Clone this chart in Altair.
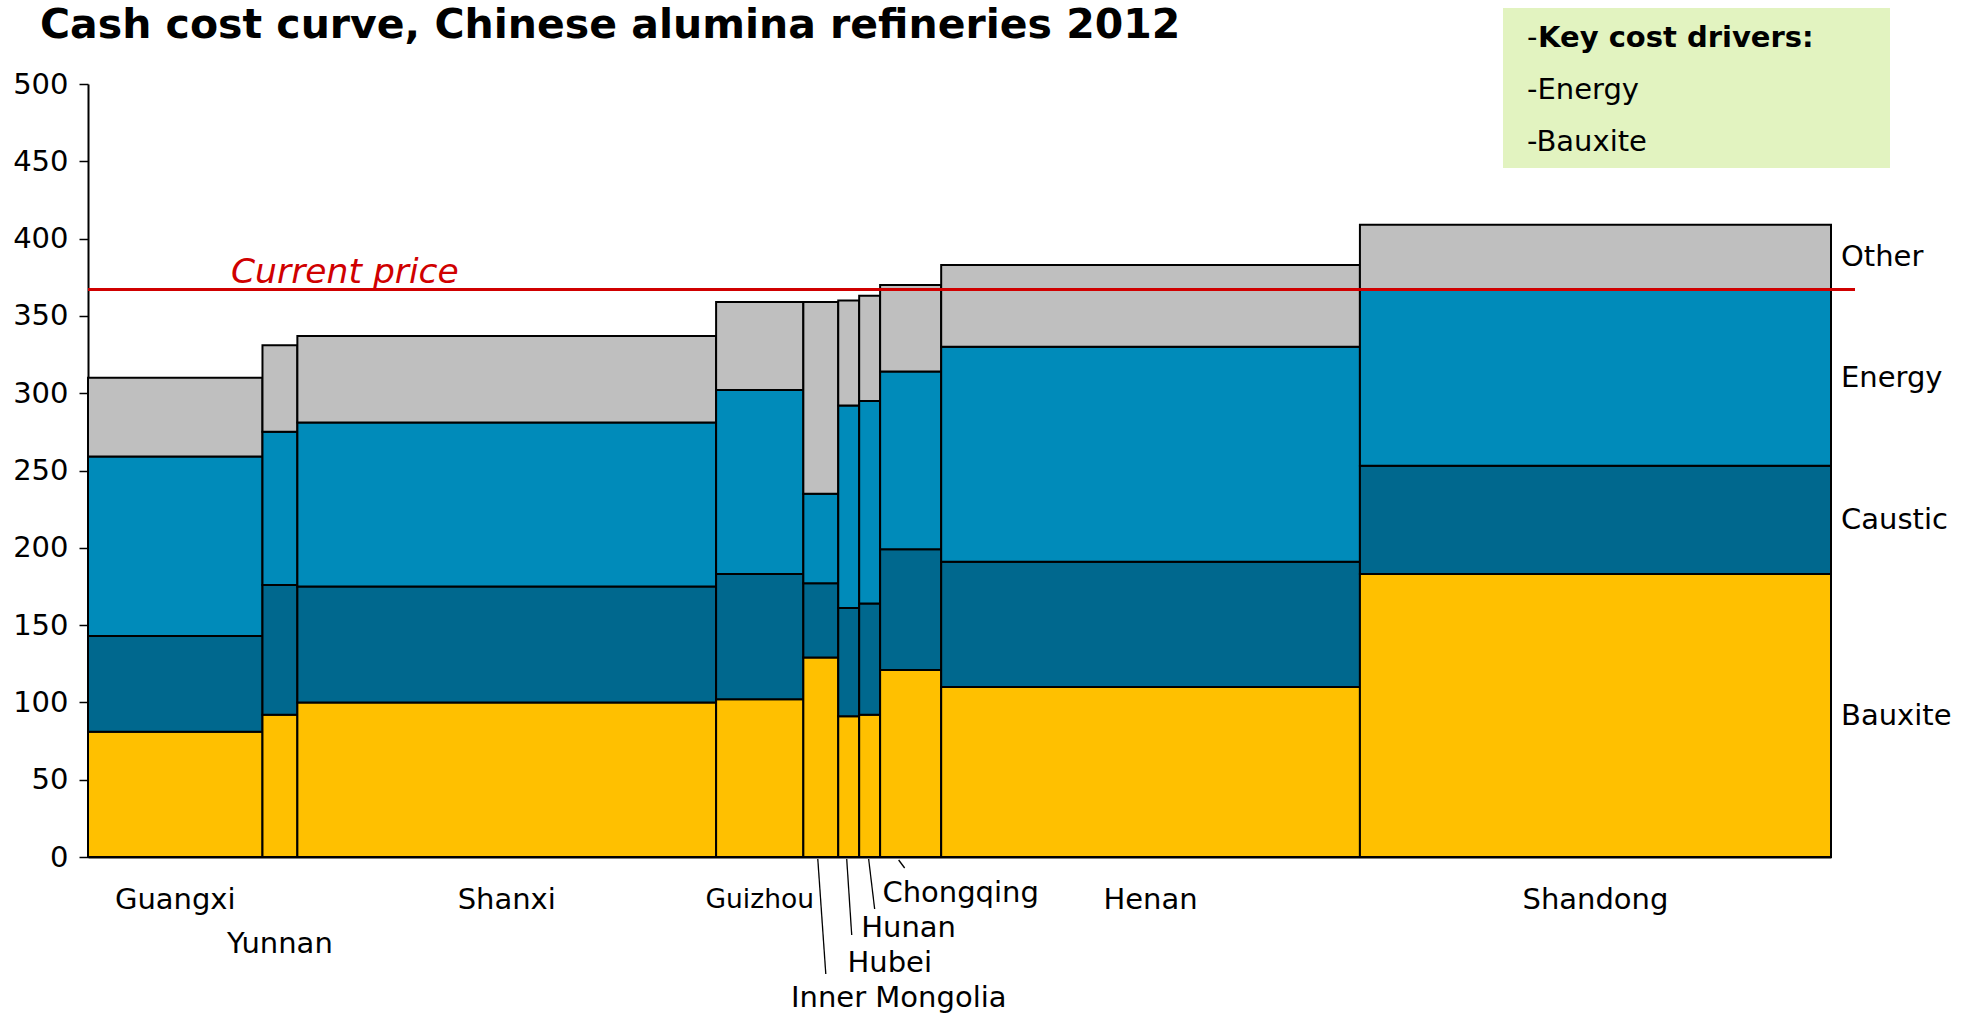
import altair as alt
import pandas as pd

# ---------------- data ----------------
regions = ["Guangxi", "Yunnan", "Shanxi", "Guizhou", "Inner Mongolia",
           "Hubei", "Hunan", "Chongqing", "Henan", "Shandong"]
capacity = [5.0, 1.0, 12.0, 2.5, 1.0, 0.6, 0.6, 1.75, 12.0, 13.5]   # bar widths
bauxite = [81, 92, 100, 102, 129, 91, 92, 121, 110, 183]
caustic = [62, 84, 75, 81, 48, 70, 72, 78, 81, 70]
energy = [116, 99, 106, 119, 58, 131, 131, 115, 139, 114]
other = [51, 56, 56, 57, 124, 68, 68, 56, 53, 42]
components = ["Bauxite", "Caustic", "Energy", "Other"]
current_price = [367]
price_label = ["Current price"]
y_ticks = [0, 50, 100, 150, 200, 250, 300, 350, 400, 450, 500]
key_title = "Key cost drivers:"
key_items = ["Energy", "Bauxite"]
title_text = "Cash cost curve, Chinese alumina refineries 2012"

# ---------------- styles / layout ----------------
colors = ["#FFC000", "#00688E", "#008BBA", "#BFBFBF"]
RED = "#D00000"
FONT = "DejaVu Sans"
FS = 29
W, H = 1743, 773
total = sum(capacity)
px_x = W / total
px_y = H / 500.0

# label layout: (dx px from bar centre, y px from plot top, font size)
label_layout = {
    "Guangxi": (0, 816, FS), "Yunnan": (0, 860, FS), "Shanxi": (0, 816, FS),
    "Guizhou": (0, 816, 26.5), "Inner Mongolia": (78, 914, FS), "Hubei": (41, 879, FS),
    "Hunan": (39, 844, FS), "Chongqing": (50, 809, FS), "Henan": (0, 816, FS),
    "Shandong": (0, 816, FS),
}
# leader lines: (dx top, dx bottom, y top, y bottom) in px
leader_layout = {
    "Inner Mongolia": (-3, 5, 775, 890), "Hubei": (-2, 3, 775, 851),
    "Hunan": (-1, 5, 775, 825), "Chongqing": (-12, -6, 776, 784),
}

rows = []
starts = {}
start = 0.0
for i, r in enumerate(regions):
    end = start + capacity[i]
    starts[r] = (start, end)
    base = 0
    for comp, vals in zip(components, [bauxite, caustic, energy, other]):
        v = vals[i]
        rows.append(dict(region=r, component=comp, cost=v, x0=start, x1=end,
                         y0=base, y1=base + v))
        base += v
    start = end
df = pd.DataFrame(rows)

def py_to_data(py):
    return (H - py) / px_y

lab_rows = []
for r in regions:
    s, e = starts[r]
    dx, py, fs = label_layout[r]
    lab_rows.append(dict(region=r, x=(s + e) / 2 + dx / px_x, y=py_to_data(py), fs=fs))
lab_df = pd.DataFrame(lab_rows)

lead_rows = []
for r, (dxt, dxb, yt, yb) in leader_layout.items():
    s, e = starts[r]
    m = (s + e) / 2
    lead_rows.append(dict(region=r, xa=m + dxt / px_x, xb=m + dxb / px_x,
                          ya=py_to_data(yt), yb=py_to_data(yb)))
lead_df = pd.DataFrame(lead_rows)

last = df[df.region == regions[-1]].copy()
last["ym"] = (last.y0 + last.y1) / 2
last["xr"] = total + 10 / px_x

price_df = pd.DataFrame({"price": current_price, "label": price_label,
                         "xs": [0.0], "xe": [total + 24 / px_x]})

x_scale = alt.Scale(domain=[0, total], nice=False, zero=False)
y_scale = alt.Scale(domain=[0, 500], nice=False)

bars = alt.Chart(df).mark_rect(stroke="black", strokeWidth=2).encode(
    x=alt.X("x0:Q", scale=x_scale,
            axis=alt.Axis(title=None, labels=False, ticks=False, grid=False,
                          domainColor="black", domainWidth=2)),
    x2="x1:Q",
    y=alt.Y("y0:Q", scale=y_scale,
            axis=alt.Axis(title=None, values=y_ticks, grid=False, domainColor="black",
                          domainWidth=2, tickColor="black", tickWidth=1.5, tickSize=9,
                          labelFontSize=FS, labelFont=FONT, labelColor="black",
                          labelPadding=11)),
    y2="y1:Q",
    color=alt.Color("component:N", scale=alt.Scale(domain=components, range=colors),
                    legend=None),
    tooltip=["region", "component", "cost"],
)

price_rule = alt.Chart(price_df).mark_rule(color=RED, strokeWidth=3).encode(
    x="xs:Q", x2="xe:Q", y="price:Q")

price_text = alt.Chart(price_df).mark_text(
    align="left", baseline="alphabetic", dy=-7, fontStyle="italic",
    fontSize=34.5, font=FONT, color=RED).encode(
    x=alt.value(143), y="price:Q", text="label:N")

cat_labels = alt.Chart(lab_df).mark_text(
    align="center", baseline="middle", font=FONT, color="black").encode(
    x="x:Q", y="y:Q", text="region:N", size=alt.Size("fs:Q", scale=None))

leaders = alt.Chart(lead_df).mark_rule(color="black", strokeWidth=1.3).encode(
    x="xa:Q", x2="xb:Q", y="ya:Q", y2="yb:Q")

right_labels = alt.Chart(last).mark_text(
    align="left", baseline="middle", fontSize=FS, font=FONT, color="black").encode(
    x="xr:Q", y="ym:Q", text="component:N")

one = pd.DataFrame({"k": [0]})
box = alt.Chart(one).mark_rect(fill="#E2F3C0").encode(
    x=alt.value(1415), x2=alt.value(1802), y=alt.value(-76), y2=alt.value(84))

key_df = pd.DataFrame({"t": ["-", "-" + key_items[0], "-" + key_items[1]],
                       "py": [-46, 6, 58]})
key_text = alt.Chart(key_df).mark_text(
    align="left", baseline="middle", fontSize=FS, font=FONT, color="black").encode(
    x=alt.value(1439), y=alt.Y("py:Q", scale=None), text="t:N")
key_head = alt.Chart(pd.DataFrame({"t": [key_title]})).mark_text(
    align="left", baseline="middle", fontSize=29, fontWeight="bold", font=FONT,
    color="black").encode(x=alt.value(1450), y=alt.value(-46), text="t:N")

chart = alt.layer(
    bars, price_rule, price_text, cat_labels, leaders, right_labels, box, key_text, key_head
).properties(
    width=W, height=H,
    title=alt.TitleParams(title_text, anchor="start", frame="group", dx=-48, dy=63,
                          fontSize=41, font=FONT, fontWeight="bold", color="black",
                          offset=24),
    padding={"left": 88, "top": 84, "right": 1969 - 88 - W, "bottom": 1015 - 84 - H},
    autosize=alt.AutoSizeParams(type="none"),
    background="white",
).configure_view(stroke=None)

chart.save("out.html", embed_options={"renderer": "svg", "actions": False})
